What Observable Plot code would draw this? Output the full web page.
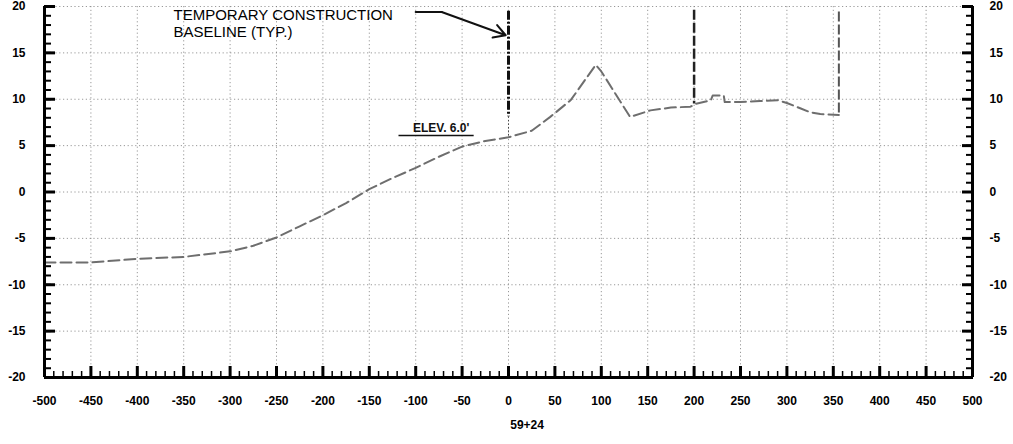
<!DOCTYPE html>
<html><head><meta charset="utf-8">
<script src="https://cdn.jsdelivr.net/npm/d3@7"></script>
<script src="https://cdn.jsdelivr.net/npm/@observablehq/plot@0.6"></script>
<style>body{margin:0;background:#fff}svg{display:block}</style>
</head><body><div id="chart"></div>
<script>
// Profile: station offset (ft) vs elevation (ft)
const stationX = [-500,-450,-400,-350,-300,-275,-250,-225,-200,-175,-150,-125,-100,-75,-50,-25,0,25,45,67,94,100,131,153,175,196,202,218,220,232,233,250,271,290,300,315,325,336,356];
const elevation = [-7.6,-7.6,-7.2,-7.0,-6.4,-5.8,-4.9,-3.7,-2.5,-1.2,0.3,1.5,2.6,3.8,4.9,5.5,5.9,6.6,8.1,9.9,13.7,13.0,8.1,8.8,9.1,9.2,9.5,9.9,10.4,10.4,9.7,9.7,9.8,9.9,9.6,9.0,8.6,8.4,8.3];

// Tick values
const xTickLabels = [-500,-450,-400,-350,-300,-250,-200,-150,-100,-50,0,50,100,150,200,250,300,350,400,450,500];
const yTickLabels = [-20,-15,-10,-5,0,5,10,15,20];
const xGridLines = [-450,-400,-350,-300,-250,-200,-150,-100,-50,0,50,100,150,200,250,300,350,400,450];
const yGridLines = [-15,-10,-5,0,5,10,15,20];
const xMinorTicks = d3.range(-500, 501, 10);
const yMinorTicks = d3.range(-20, 21, 1);

// Construction baselines (vertical lines)
const baselineCenter = {x: [0], top: [19.5], bottom: [8.1], foot: [5.9]};
const baselineMid = {x: [200], top: [19.6], bottom: [9.5]};
const baselineEnd = {x: [356], top: [19.4], bottom: [8.3]};

// Annotations
const noteText = ["TEMPORARY CONSTRUCTION\nBASELINE (TYP.)"];
const noteX = [-361];
const noteY = [19.8];
const leaderX = [-100, -72];
const leaderY = [19.4, 19.4];
const arrowFrom = [-72, 19.4];
const arrowTo = [-3, 16.9];
const elevLabel = ["ELEV. 6.0'"];
const elevLabelX = [-103];
const elevLabelY = [6.5];
const elevLineX = [-118, -37];
const elevLineY = [6.1];
const stationLabel = ["59+24"];
const stationLabelX = [20];

const profile = stationX.map((x, i) => ({x, y: elevation[i]}));
const FONT = "'Liberation Sans', Arial, Helvetica, sans-serif";

const chart = Plot.plot({
  width: 1013, height: 444,
  marginLeft: 44, marginRight: 41, marginTop: 6, marginBottom: 67,
  x: {domain: [-500, 500], axis: null},
  y: {domain: [-20, 20], axis: null},
  style: {fontFamily: FONT, fontSize: "12px", background: "#fff", color: "#000", overflow: "visible"},
  marks: [
    Plot.gridX(xGridLines, {stroke: "#777", strokeOpacity: 0.75, strokeDasharray: "1.2,2.6"}),
    Plot.gridY(yGridLines, {stroke: "#777", strokeOpacity: 0.75, strokeDasharray: "1.2,2.6"}),
    // profile
    Plot.line(profile, {x: "x", y: "y", stroke: "#6e6e6e", strokeWidth: 2, strokeDasharray: "11,5"}),
    // baselines
    Plot.ruleX(baselineCenter.x, {x: d => d, y1: baselineCenter.top[0], y2: baselineCenter.bottom[0], stroke: "#111", strokeWidth: 3, strokeDasharray: "9,2,2,2"}),
    Plot.ruleX(baselineCenter.x, {x: d => d, y1: baselineCenter.bottom[0], y2: baselineCenter.foot[0], stroke: "#444", strokeWidth: 1, strokeDasharray: "1.5,2"}),
    Plot.ruleX(baselineMid.x, {x: d => d, y1: baselineMid.top[0], y2: baselineMid.bottom[0], stroke: "#222", strokeWidth: 2.5, strokeDasharray: "10,3"}),
    Plot.ruleX(baselineEnd.x, {x: d => d, y1: baselineEnd.top[0], y2: baselineEnd.bottom[0], stroke: "#555", strokeWidth: 2, strokeDasharray: "10,3"}),
    // leader arrow
    Plot.line(leaderX.map((x, i) => ({x, y: leaderY[i]})), {x: "x", y: "y", stroke: "#111", strokeWidth: 2}),
    Plot.arrow([{x1: arrowFrom[0], y1: arrowFrom[1], x2: arrowTo[0], y2: arrowTo[1]}], {x1: "x1", y1: "y1", x2: "x2", y2: "y2", stroke: "#111", strokeWidth: 2, headLength: 10}),
    // annotations
    Plot.text(noteText, {x: noteX, y: noteY, text: d => d, textAnchor: "start", lineAnchor: "top", fontSize: 15, lineHeight: 1.13, fill: "#000"}),
    Plot.text(elevLabel, {x: elevLabelX, y: elevLabelY, text: d => d, textAnchor: "start", lineAnchor: "bottom", fontSize: 12, fontWeight: "bold", fill: "#111"}),
    Plot.ruleY(elevLineY, {x1: elevLineX[0], x2: elevLineX[1], y: d => d, stroke: "#111", strokeWidth: 1.5}),
    // axes lines
    Plot.ruleY([-20], {stroke: "#000", strokeWidth: 3}),
    Plot.ruleX([-500, 500], {stroke: "#000", strokeWidth: 3}),
    // x ticks
    Plot.axisX(xMinorTicks, {anchor: "bottom", tickSize: -6, text: null, strokeWidth: 1.5, label: null}),
    Plot.axisX(xTickLabels, {anchor: "bottom", tickSize: -11, text: null, strokeWidth: 3, label: null}),
    Plot.axisX(xTickLabels, {anchor: "bottom", tickSize: 0, tickPadding: 19, fontWeight: "bold", fontSize: 12, label: null, tickFormat: d => String(d).replace("−", "-")}),
    // y ticks left
    Plot.axisY(yMinorTicks, {anchor: "left", tickSize: -7, text: null, strokeWidth: 2, label: null}),
    Plot.axisY(yTickLabels, {anchor: "left", tickSize: -11, text: null, strokeWidth: 3, label: null}),
    Plot.axisY(yTickLabels, {anchor: "left", tickSize: 0, tickPadding: 19, fontWeight: "bold", fontSize: 12, label: null, tickFormat: d => String(d)}),
    // y ticks right
    Plot.axisY(yMinorTicks, {anchor: "right", tickSize: -7, text: null, strokeWidth: 2, label: null}),
    Plot.axisY(yTickLabels, {anchor: "right", tickSize: -11, text: null, strokeWidth: 3, label: null}),
    Plot.axisY(yTickLabels, {anchor: "right", tickSize: 0, tickPadding: 17, fontWeight: "bold", fontSize: 12, label: null, tickFormat: d => String(d)}),
    // station label
    Plot.text(stationLabel, {x: stationLabelX, frameAnchor: "bottom", dy: 51, text: d => d, fontWeight: "bold", fontSize: 12, fill: "#000"})
  ]
});
document.getElementById("chart").appendChild(chart);
</script>
</body></html>
